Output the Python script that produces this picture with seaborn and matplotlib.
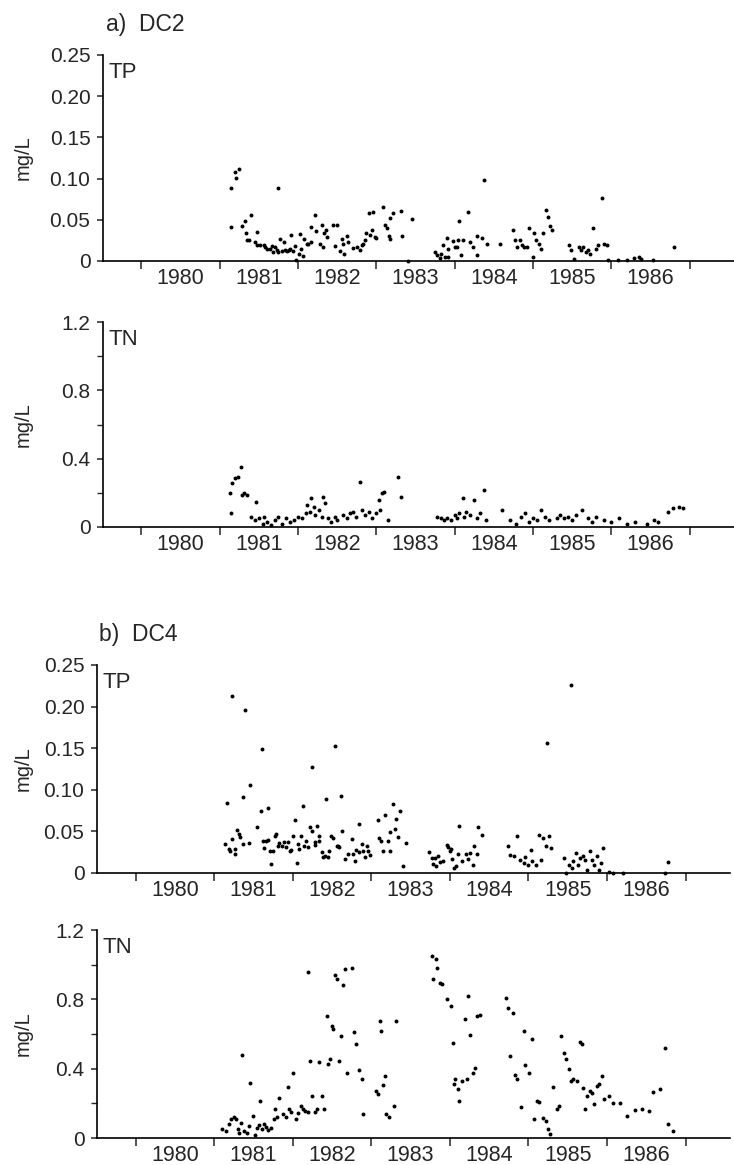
import numpy as np
import pandas as pd
import seaborn as sns
import matplotlib
matplotlib.use("Agg")
import matplotlib.pyplot as plt
from matplotlib.ticker import FixedLocator, NullFormatter

# --- data (decimal year, mg/L) ---
year_labels = ["1980", "1981", "1982", "1983", "1984", "1985", "1986"]
year_starts = [1980, 1981, 1982, 1983, 1984, 1985, 1986, 1987]

tp_ticks = [0, 0.05, 0.10, 0.15, 0.20, 0.25]
tp_ticklabels = ["0", "0.05", "0.10", "0.15", "0.20", "0.25"]
tn_ticks = [0, 0.4, 0.8, 1.2]
tn_ticklabels = ["0", "0.4", "0.8", "1.2"]
tn_minor = [0.2, 0.6, 1.0]

dc2_tp_year = [
    1981.14, 1981.15, 1981.19, 1981.21, 1981.25, 1981.29, 1981.32, 1981.34, 1981.35, 1981.37,
    1981.40, 1981.45, 1981.48, 1981.47, 1981.52, 1981.56, 1981.58, 1981.60, 1981.64, 1981.67,
    1981.68, 1981.70, 1981.73, 1981.74, 1981.75, 1981.77, 1981.80, 1981.82, 1981.83, 1981.86,
    1981.88, 1981.90, 1981.91, 1981.94, 1981.96, 1981.98, 1982.01, 1982.02, 1982.04, 1982.06,
    1982.08, 1982.11, 1982.13, 1982.16, 1982.17, 1982.22, 1982.23, 1982.28, 1982.30, 1982.32,
    1982.33, 1982.36, 1982.37, 1982.45, 1982.47, 1982.50, 1982.53, 1982.56, 1982.57, 1982.59,
    1982.62, 1982.64, 1982.70, 1982.75, 1982.79, 1982.81, 1982.83, 1982.85, 1982.87, 1982.90,
    1982.92, 1982.94, 1982.96, 1982.98, 1982.99, 1983.08, 1983.11, 1983.13, 1983.16, 1983.17,
    1983.18, 1983.21, 1983.32, 1983.33, 1983.40, 1983.45, 1983.75, 1983.77, 1983.81, 1983.82,
    1983.85, 1983.88, 1983.90, 1983.91, 1983.92, 1983.98, 1984.00, 1984.03, 1984.04, 1984.06,
    1984.08, 1984.11, 1984.17, 1984.20, 1984.23, 1984.28, 1984.29, 1984.35, 1984.38, 1984.41,
    1984.58, 1984.74, 1984.77, 1984.80, 1984.83, 1984.86, 1984.89, 1984.92, 1984.95, 1985.00,
    1985.01, 1985.04, 1985.07, 1985.10, 1985.13, 1985.16, 1985.19, 1985.22, 1985.24, 1985.46,
    1985.49, 1985.52, 1985.58, 1985.61, 1985.64, 1985.67, 1985.70, 1985.73, 1985.77, 1985.80,
    1985.83, 1985.88, 1985.91, 1985.94, 1985.96, 1986.08, 1986.20, 1986.29, 1986.35, 1986.38,
    1986.53, 1986.80,
]
dc2_tp_val = [
    0.041, 0.089, 0.108, 0.101, 0.112, 0.042, 0.049, 0.034, 0.025, 0.025,
    0.056, 0.023, 0.035, 0.019, 0.019, 0.020, 0.017, 0.015, 0.014, 0.018,
    0.011, 0.017, 0.013, 0.089, 0.011, 0.027, 0.012, 0.023, 0.013, 0.0125,
    0.013, 0.015, 0.032, 0.012, 0.018, 0.001, 0.009, 0.033, 0.015, 0.006,
    0.027, 0.021, 0.021, 0.023, 0.041, 0.056, 0.036, 0.021, 0.044, 0.017,
    0.034, 0.038, 0.029, 0.044, 0.018, 0.044, 0.012, 0.027, 0.021, 0.009,
    0.030, 0.023, 0.016, 0.017, 0.013, 0.020, 0.021, 0.025, 0.034, 0.058,
    0.032, 0.038, 0.059, 0.029, 0.028, 0.065, 0.044, 0.040, 0.030, 0.027,
    0.052, 0.058, 0.061, 0.030, 0.000, 0.051, 0.011, 0.007, 0.004, 0.009,
    0.019, 0.005, 0.028, 0.005, 0.015, 0.024, 0.017, 0.017, 0.025, 0.049,
    0.007, 0.025, 0.060, 0.023, 0.017, 0.007, 0.030, 0.028, 0.098, 0.021,
    0.021, 0.038, 0.025, 0.017, 0.025, 0.019, 0.017, 0.017, 0.040, 0.005,
    0.034, 0.025, 0.021, 0.015, 0.034, 0.062, 0.054, 0.042, 0.038, 0.019,
    0.013, 0.003, 0.017, 0.013, 0.017, 0.011, 0.013, 0.009, 0.040, 0.015,
    0.019, 0.076, 0.021, 0.019, 0.001, 0.001, 0.001, 0.004, 0.005, 0.003,
    0.001, 0.017,
]

dc2_tn_year = [
    1981.13, 1981.15, 1981.16, 1981.19, 1981.23, 1981.27, 1981.28, 1981.31, 1981.35, 1981.40,
    1981.45, 1981.46, 1981.50, 1981.55, 1981.57, 1981.60, 1981.65, 1981.70, 1981.75, 1981.80,
    1981.85, 1981.90, 1981.95, 1982.00, 1982.05, 1982.10, 1982.11, 1982.15, 1982.17, 1982.20,
    1982.22, 1982.27, 1982.30, 1982.32, 1982.34, 1982.38, 1982.42, 1982.47, 1982.50, 1982.58,
    1982.62, 1982.66, 1982.70, 1982.74, 1982.79, 1982.82, 1982.86, 1982.90, 1982.95, 1983.00,
    1983.03, 1983.05, 1983.07, 1983.10, 1983.15, 1983.28, 1983.31, 1983.78, 1983.82, 1983.86,
    1983.90, 1983.95, 1984.00, 1984.03, 1984.06, 1984.10, 1984.12, 1984.15, 1984.20, 1984.25,
    1984.28, 1984.32, 1984.37, 1984.40, 1984.60, 1984.70, 1984.78, 1984.85, 1984.90, 1984.95,
    1985.00, 1985.05, 1985.10, 1985.15, 1985.20, 1985.30, 1985.35, 1985.40, 1985.45, 1985.50,
    1985.55, 1985.62, 1985.70, 1985.75, 1985.80, 1985.90, 1986.00, 1986.10, 1986.20, 1986.30,
    1986.45, 1986.55, 1986.60, 1986.72, 1986.78, 1986.86, 1986.92,
]
dc2_tn_val = [
    0.197, 0.080, 0.256, 0.285, 0.295, 0.353, 0.187, 0.197, 0.187, 0.060,
    0.040, 0.148, 0.050, 0.020, 0.060, 0.030, 0.010, 0.040, 0.060, 0.020,
    0.050, 0.030, 0.040, 0.060, 0.050, 0.080, 0.129, 0.090, 0.168, 0.119,
    0.070, 0.100, 0.060, 0.177, 0.139, 0.050, 0.030, 0.060, 0.040, 0.070,
    0.050, 0.080, 0.090, 0.060, 0.265, 0.100, 0.070, 0.090, 0.050, 0.080,
    0.158, 0.100, 0.197, 0.207, 0.040, 0.294, 0.177, 0.060, 0.050, 0.040,
    0.050, 0.040, 0.070, 0.050, 0.080, 0.168, 0.060, 0.090, 0.070, 0.158,
    0.050, 0.080, 0.217, 0.040, 0.100, 0.040, 0.020, 0.060, 0.080, 0.030,
    0.050, 0.040, 0.100, 0.060, 0.040, 0.050, 0.070, 0.050, 0.060, 0.040,
    0.070, 0.100, 0.050, 0.030, 0.060, 0.040, 0.030, 0.050, 0.020, 0.030,
    0.020, 0.040, 0.030, 0.090, 0.110, 0.119, 0.109,
]

dc4_tp_year = [
    1981.14, 1981.17, 1981.19, 1981.20, 1981.23, 1981.23, 1981.26, 1981.27, 1981.29, 1981.32,
    1981.33, 1981.37, 1981.37, 1981.39, 1981.44, 1981.46, 1981.55, 1981.60, 1981.61, 1981.62,
    1981.64, 1981.66, 1981.68, 1981.69, 1981.71, 1981.73, 1981.75, 1981.77, 1981.79, 1981.81,
    1981.83, 1981.86, 1981.89, 1981.91, 1981.94, 1981.96, 1981.98, 1982.01, 1982.03, 1982.05,
    1982.07, 1982.08, 1982.11, 1982.13, 1982.14, 1982.17, 1982.20, 1982.22, 1982.24, 1982.24,
    1982.28, 1982.29, 1982.31, 1982.34, 1982.34, 1982.37, 1982.39, 1982.41, 1982.43, 1982.45,
    1982.46, 1982.49, 1982.51, 1982.54, 1982.56, 1982.58, 1982.59, 1982.61, 1982.63, 1982.66,
    1982.71, 1982.75, 1982.77, 1982.79, 1982.81, 1982.84, 1982.85, 1982.88, 1982.90, 1982.92,
    1982.94, 1982.96, 1982.98, 1983.08, 1983.10, 1983.12, 1983.15, 1983.18, 1983.21, 1983.24,
    1983.24, 1983.28, 1983.30, 1983.32, 1983.34, 1983.37, 1983.41, 1983.44, 1983.74, 1983.77,
    1983.79, 1983.81, 1983.83, 1983.85, 1983.87, 1983.91, 1983.96, 1983.98, 1984.00, 1984.01,
    1984.03, 1984.05, 1984.08, 1984.10, 1984.12, 1984.16, 1984.20, 1984.23, 1984.26, 1984.29,
    1984.31, 1984.34, 1984.36, 1984.41, 1984.74, 1984.77, 1984.82, 1984.86, 1984.89, 1984.94,
    1984.96, 1985.00, 1985.03, 1985.05, 1985.10, 1985.13, 1985.16, 1985.19, 1985.22, 1985.23,
    1985.26, 1985.29, 1985.45, 1985.48, 1985.51, 1985.54, 1985.56, 1985.57, 1985.60, 1985.63,
    1985.66, 1985.69, 1985.72, 1985.75, 1985.78, 1985.81, 1985.84, 1985.87, 1985.90, 1985.92,
    1985.95, 1986.02, 1986.08, 1986.20, 1986.74, 1986.78,
]
dc4_tp_val = [
    0.035, 0.084, 0.029, 0.027, 0.213, 0.041, 0.023, 0.029, 0.052, 0.047,
    0.043, 0.091, 0.035, 0.196, 0.036, 0.106, 0.055, 0.075, 0.149, 0.039,
    0.030, 0.039, 0.078, 0.040, 0.027, 0.011, 0.027, 0.045, 0.047, 0.032,
    0.036, 0.033, 0.037, 0.031, 0.037, 0.026, 0.028, 0.045, 0.064, 0.012,
    0.035, 0.029, 0.044, 0.081, 0.033, 0.039, 0.031, 0.055, 0.050, 0.128,
    0.034, 0.037, 0.057, 0.045, 0.039, 0.025, 0.019, 0.021, 0.089, 0.019,
    0.026, 0.045, 0.042, 0.153, 0.033, 0.032, 0.031, 0.093, 0.050, 0.017,
    0.023, 0.041, 0.023, 0.015, 0.028, 0.059, 0.025, 0.035, 0.027, 0.019,
    0.033, 0.027, 0.022, 0.064, 0.042, 0.039, 0.026, 0.070, 0.039, 0.026,
    0.049, 0.083, 0.053, 0.065, 0.043, 0.074, 0.008, 0.036, 0.025, 0.018,
    0.011, 0.018, 0.009, 0.021, 0.013, 0.015, 0.034, 0.031, 0.026, 0.029,
    0.017, 0.006, 0.008, 0.023, 0.056, 0.015, 0.023, 0.017, 0.024, 0.010,
    0.032, 0.023, 0.055, 0.046, 0.032, 0.022, 0.020, 0.044, 0.016, 0.012,
    0.019, 0.010, 0.028, 0.014, 0.010, 0.046, 0.016, 0.042, 0.032, 0.156,
    0.044, 0.030, 0.018, 0.000, 0.010, 0.226, 0.006, 0.014, 0.024, 0.010,
    0.018, 0.020, 0.016, 0.004, 0.026, 0.016, 0.010, 0.020, 0.004, 0.012,
    0.030, 0.001, 0.000, 0.000, 0.000, 0.013,
]

dc4_tn_year = [
    1981.10, 1981.15, 1981.19, 1981.22, 1981.25, 1981.28, 1981.30, 1981.32, 1981.34, 1981.36,
    1981.38, 1981.42, 1981.45, 1981.46, 1981.49, 1981.52, 1981.54, 1981.57, 1981.58, 1981.61,
    1981.64, 1981.66, 1981.69, 1981.72, 1981.76, 1981.77, 1981.80, 1981.83, 1981.88, 1981.91,
    1981.94, 1981.95, 1981.98,
    1982.00, 1982.04, 1982.07, 1982.10, 1982.13, 1982.16, 1982.19, 1982.20, 1982.22, 1982.25,
    1982.28, 1982.31, 1982.34, 1982.37, 1982.40, 1982.44, 1982.45, 1982.48, 1982.50, 1982.51,
    1982.54, 1982.56, 1982.59, 1982.61, 1982.64, 1982.67, 1982.69, 1982.75, 1982.78, 1982.80,
    1982.85, 1982.88, 1982.89, 1983.06, 1983.09, 1983.11, 1983.13, 1983.15, 1983.17, 1983.19,
    1983.22, 1983.29, 1983.31, 1983.77, 1983.78, 1983.83, 1983.84, 1983.87, 1983.90, 1983.96,
    1984.01, 1984.04, 1984.05, 1984.07, 1984.10, 1984.12, 1984.16, 1984.19, 1984.22, 1984.23,
    1984.26, 1984.29, 1984.32, 1984.35, 1984.38, 1984.71, 1984.74, 1984.77, 1984.80, 1984.83,
    1984.86, 1984.90, 1984.94, 1984.96, 1985.01, 1985.05, 1985.07, 1985.11, 1985.14, 1985.19,
    1985.22, 1985.25, 1985.28, 1985.31, 1985.36, 1985.39, 1985.41, 1985.45, 1985.48, 1985.51,
    1985.54, 1985.57, 1985.62, 1985.65, 1985.68, 1985.70, 1985.72, 1985.75, 1985.78, 1985.81,
    1985.84, 1985.87, 1985.90, 1985.93, 1985.96, 1986.02, 1986.08, 1986.17, 1986.26, 1986.35,
    1986.44, 1986.53, 1986.59, 1986.68, 1986.74, 1986.78, 1986.84,
]
dc4_tn_val = [
    0.054, 0.040, 0.079, 0.112, 0.123, 0.108, 0.054, 0.027, 0.088, 0.477,
    0.040, 0.031, 0.069, 0.315, 0.127, 0.015, 0.060, 0.073, 0.213, 0.050,
    0.079, 0.065, 0.046, 0.060, 0.108, 0.165, 0.123, 0.233, 0.137, 0.123,
    0.296, 0.169, 0.150,
    0.377, 0.108, 0.146, 0.185, 0.165, 0.156, 0.150, 0.958, 0.444, 0.242,
    0.152, 0.169, 0.438, 0.242, 0.165, 0.704, 0.425, 0.454, 0.646, 0.627,
    0.938, 0.915, 0.444, 0.588, 0.881, 0.977, 0.373, 0.983, 0.612, 0.540,
    0.392, 0.338, 0.137, 0.271, 0.252, 0.675, 0.617, 0.304, 0.358, 0.137,
    0.123, 0.185, 0.675, 1.050, 0.919, 1.035, 0.983, 0.896, 0.887, 0.800,
    0.762, 0.550, 0.310, 0.338, 0.285, 0.213, 0.329, 0.685, 0.338, 0.819,
    0.592, 0.377, 0.406, 0.704, 0.708, 0.810, 0.752, 0.473, 0.723, 0.362,
    0.342, 0.181, 0.617, 0.419, 0.377, 0.569, 0.108, 0.213, 0.208, 0.117,
    0.098, 0.054, 0.021, 0.296, 0.165, 0.185, 0.588, 0.492, 0.454, 0.396,
    0.329, 0.342, 0.329, 0.554, 0.540, 0.290, 0.165, 0.242, 0.271, 0.262,
    0.194, 0.300, 0.310, 0.358, 0.223, 0.242, 0.204, 0.204, 0.127, 0.162,
    0.169, 0.156, 0.265, 0.285, 0.521, 0.079, 0.040,
]

panels = [
    ("TP", dc2_tp_year, dc2_tp_val, "tp"),
    ("TN", dc2_tn_year, dc2_tn_val, "tn"),
    ("TP", dc4_tp_year, dc4_tp_val, "tp"),
    ("TN", dc4_tn_year, dc4_tn_val, "tn"),
]

sns.set_style("ticks")
plt.rcParams["font.family"] = ["Liberation Sans", "DejaVu Sans"]

W, H = 734, 1165
fig = plt.figure(figsize=(W / 100, H / 100), dpi=100)

# axes boxes in pixels: left, top, right, bottom
boxes = [(103, 55, 734, 261), (103, 322, 734, 527), (97, 665, 730, 873), (97, 930, 730, 1138)]

for (name, xs, ys, kind), (l, t, r, b) in zip(panels, boxes):
    ax = fig.add_axes([l / W, 1 - b / H, (r - l) / W, (b - t) / H])
    df = pd.DataFrame({"year": xs, "mgL": ys})
    sns.scatterplot(data=df, x="year", y="mgL", ax=ax, s=8, color="k",
                    linewidth=0, clip_on=False)
    ax.set_xlim(1979.51, 1987.565)
    sns.despine(ax=ax)
    for sp in ("left", "bottom"):
        ax.spines[sp].set_linewidth(1.2)
        ax.spines[sp].set_color("k")

    if kind == "tp":
        ax.set_ylim(0, 0.25)
        ax.set_yticks(tp_ticks, tp_ticklabels)
    else:
        ax.set_ylim(0, 1.2)
        ax.set_yticks(tn_ticks, tn_ticklabels)
        ax.yaxis.set_minor_locator(FixedLocator(tn_minor))
        ax.tick_params(axis="y", which="minor", direction="out", length=4, width=1)

    ax.xaxis.set_major_locator(FixedLocator(year_starts))
    ax.xaxis.set_major_formatter(NullFormatter())
    ax.xaxis.set_minor_locator(FixedLocator([y + 0.5 for y in year_starts[:-1]]))
    ax.set_xticklabels(year_labels, minor=True)
    ax.tick_params(axis="x", which="major", direction="out", length=6, width=1.1)
    ax.tick_params(axis="x", which="minor", length=0, pad=5, labelsize=15.5)
    ax.tick_params(axis="y", which="major", direction="out", length=4, width=1.1,
                   pad=5, labelsize=15)

    ax.set_xlabel("")
    ax.set_ylabel("mg/L", fontsize=14.5)
    ax.yaxis.set_label_coords((33 - l) / (r - l), 0.5)
    ax.text(0.008, 0.965, name, transform=ax.transAxes, ha="left", va="top",
            fontsize=16)

fig.text(106 / W, 1 - 25 / H, "a)  DC2", ha="left", va="center", fontsize=16.5)
fig.text(99 / W, 1 - 635 / H, "b)  DC4", ha="left", va="center", fontsize=16.5)

fig.savefig("out.png", dpi=100)
